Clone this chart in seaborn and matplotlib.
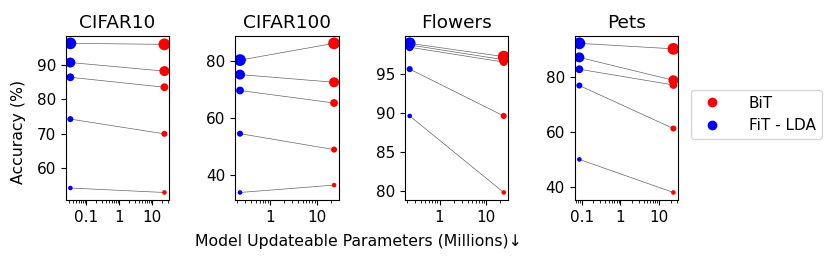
"""
BiT vs FiT-LDA: accuracy against number of updateable parameters, four datasets.
Marker size encodes the shot level; lines pair the two methods at the same level.
"""

import matplotlib

matplotlib.use("Agg")
import matplotlib.pyplot as plt
import numpy as np
import pandas as pd
import seaborn as sns
from matplotlib.lines import Line2D
from matplotlib.ticker import FormatStrFormatter, NullFormatter

# ---- Data -------------------------------------------------------------------
datasets = ["CIFAR10", "CIFAR100", "Flowers", "Pets"]
shot_levels = ["1", "2", "5", "10", "All"]

# Updateable parameters (millions) per dataset
fit_params = [0.033, 0.23, 0.23, 0.087]
bit_params = [23.5, 23.5, 23.5, 23.5]

# Accuracy (%) per shot level, lowest to highest
cifar10_fit = [54.1, 74.2, 86.4, 90.7, 96.3]
cifar10_bit = [52.8, 69.9, 83.5, 88.2, 96.0]
cifar100_fit = [33.7, 54.4, 69.6, 75.2, 80.3]
cifar100_bit = [36.3, 48.8, 65.2, 72.5, 86.2]
flowers_fit = [89.6, 95.6, 98.4, 98.7, 98.9]
flowers_bit = [79.8, 89.6, 96.5, 96.8, 97.2]
pets_fit = [50.0, 76.8, 82.7, 87.0, 92.1]
pets_bit = [38.0, 61.2, 77.0, 78.7, 90.1]

fit_acc = [cifar10_fit, cifar100_fit, flowers_fit, pets_fit]
bit_acc = [cifar10_bit, cifar100_bit, flowers_bit, pets_bit]

# ---- Long table -------------------------------------------------------------
rows = []
for d, name in enumerate(datasets):
    for k, shot in enumerate(shot_levels):
        rows.append((name, "BiT", shot, bit_params[d], bit_acc[d][k]))
        rows.append((name, "FiT - LDA", shot, fit_params[d], fit_acc[d][k]))
df = pd.DataFrame(rows, columns=["dataset", "method", "shots", "params", "acc"])

# ---- Style ------------------------------------------------------------------
palette = {"BiT": "red", "FiT - LDA": "blue"}
size_map = {"1": 11, "2": 19, "5": 32, "10": 52, "All": 72}
plt.rcParams["font.family"] = ["DejaVu Sans"]
plt.rcParams["xtick.labelsize"] = 11
plt.rcParams["ytick.labelsize"] = 11

fig, axes = plt.subplots(1, 4, figsize=(8.31, 2.6), dpi=100)
fig.subplots_adjust(left=0.079, right=0.816, bottom=0.231, top=0.862, wspace=0.64)

for ax, name in zip(axes, datasets):
    sub = df[df["dataset"] == name]
    # pair lines first so the markers sit on top
    for shot in shot_levels:
        pair = sub[sub["shots"] == shot]
        ax.plot(pair["params"], pair["acc"], color="k", lw=0.5, alpha=0.6, zorder=1)
    sns.scatterplot(
        data=sub, x="params", y="acc", hue="method", palette=palette,
        size="shots", sizes=size_map, size_order=shot_levels,
        linewidth=0, legend=False, ax=ax, zorder=2,
    )
    ax.set_xscale("log")
    ax.xaxis.set_major_formatter(FormatStrFormatter("%g"))
    ax.xaxis.set_minor_formatter(NullFormatter())
    ax.set_title(name, fontsize=13.3)
    ax.set_xlabel("")
    ax.set_ylabel("")

fig.text(0.431, 0.073, "Model Updateable Parameters (Millions)\u2193",
         ha="center", va="center", fontsize=11.3)
fig.text(0.022, 0.494, "Accuracy (%)", rotation=90,
         ha="center", va="center", fontsize=11.3)

handles = [
    Line2D([], [], ls="", marker="o", color=palette[m], markeredgewidth=0,
           markersize=7, label=m)
    for m in palette
]
fig.legend(handles=handles, loc="upper left", bbox_to_anchor=(0.822, 0.685),
           fontsize=11, handletextpad=1.4)

fig.savefig("out.png", dpi=100)
